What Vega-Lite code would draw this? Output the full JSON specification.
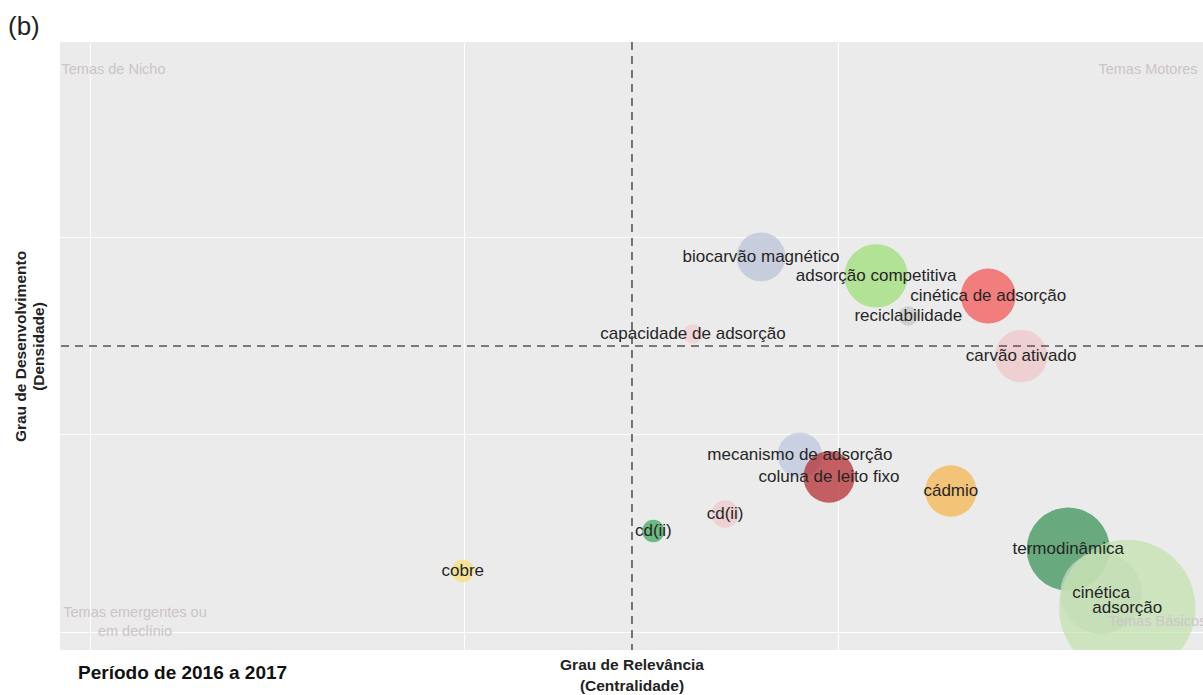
{
  "$schema": "https://vega.github.io/schema/vega-lite/v6.json",
  "autosize": {"type": "none"},
  "padding": {"left": 60, "top": 42, "right": 0, "bottom": 45},
  "width": 1143,
  "height": 608,
  "background": "white",
  "config": {
    "font": "Liberation Sans",
    "view": {"fill": "#ebebeb", "stroke": null},
    "axis": {"gridColor": "#ffffff", "gridWidth": 1.1, "gridOpacity": 1}
  },
  "title": {
    "text": "(b)",
    "anchor": "start",
    "frame": "group",
    "dx": -52,
    "offset": 1,
    "fontSize": 26,
    "fontWeight": "normal",
    "color": "#222222"
  },
  "datasets": {
    "temas": [
      {"grupo": 1, "label": "biocarvão magnético", "centralidade": 0.897, "densidade": 1.899, "freq": 19},
      {"grupo": 2, "label": "adsorção competitiva", "centralidade": 1.051, "densidade": 1.803, "freq": 32},
      {"grupo": 3, "label": "cinética de adsorção", "centralidade": 1.201, "densidade": 1.701, "freq": 24},
      {"grupo": 4, "label": "reciclabilidade", "centralidade": 1.094, "densidade": 1.6, "freq": 3},
      {"grupo": 5, "label": "capacidade de adsorção", "centralidade": 0.806, "densidade": 1.509, "freq": 3},
      {"grupo": 6, "label": "carvão ativado", "centralidade": 1.245, "densidade": 1.397, "freq": 22},
      {"grupo": 7, "label": "mecanismo de adsorção", "centralidade": 0.949, "densidade": 0.896, "freq": 16},
      {"grupo": 8, "label": "coluna de leito fixo", "centralidade": 0.988, "densidade": 0.785, "freq": 21},
      {"grupo": 9, "label": "cádmio", "centralidade": 1.151, "densidade": 0.714, "freq": 21},
      {"grupo": 10, "label": "cd(ii)", "centralidade": 0.849, "densidade": 0.597, "freq": 6},
      {"grupo": 11, "label": "cd(ii)", "centralidade": 0.753, "densidade": 0.511, "freq": 4},
      {"grupo": 12, "label": "cobre", "centralidade": 0.498, "densidade": 0.309, "freq": 4},
      {"grupo": 13, "label": "termodinâmica", "centralidade": 1.308, "densidade": 0.42, "freq": 55},
      {"grupo": 14, "label": "cinética", "centralidade": 1.352, "densidade": 0.197, "freq": 53},
      {"grupo": 15, "label": "adsorção", "centralidade": 1.387, "densidade": 0.122, "freq": 148}
    ],
    "quadrantes": [
      {"texto": "Temas de Nicho", "centralidade": 0.0308, "densidade": 2.846},
      {"texto": "Temas Motores", "centralidade": 1.4147, "densidade": 2.846},
      {"texto": "Temas emergentes ou\nem declínio", "centralidade": 0.0595, "densidade": 0.0962},
      {"texto": "Temas Básicos", "centralidade": 1.4274, "densidade": 0.0506}
    ],
    "medias": [
      {"centralidade_media": 0.7244, "densidade_media": 1.448}
    ],
    "periodo": [
      {"texto": "Período de 2016 a 2017", "centralidade": -0.0167, "densidade": -0.2076}
    ]
  },
  "layer": [
    {
      "data": {"name": "temas"},
      "mark": {"type": "circle", "opacity": 0.7, "clip": true},
      "encoding": {
        "x": {
          "field": "centralidade",
          "type": "quantitative",
          "scale": {"domain": [-0.0408, 1.4883], "nice": false, "zero": false},
          "axis": {
            "values": [0, 0.5, 1],
            "labels": false,
            "ticks": false,
            "domain": false,
            "title": ["Grau de Relevância", "(Centralidade)"],
            "titleFontSize": 15.5,
            "titleFontWeight": "bold",
            "titleColor": "#222222",
            "titleLineHeight": 21,
            "titlePadding": 7
          }
        },
        "y": {
          "field": "densidade",
          "type": "quantitative",
          "scale": {"domain": [-0.091, 2.987], "nice": false, "zero": false},
          "axis": {
            "values": [0, 1, 2],
            "labels": false,
            "ticks": false,
            "domain": false,
            "title": ["Grau de Desenvolvimento", "(Densidade)"],
            "titleFontSize": 15.5,
            "titleFontWeight": "bold",
            "titleColor": "#222222",
            "titleLineHeight": 18,
            "titlePadding": 14
          }
        },
        "size": {
          "field": "freq",
          "type": "quantitative",
          "scale": {"type": "linear", "domain": [0, 100], "range": [0, 12566], "zero": true},
          "legend": null
        },
        "color": {
          "field": "grupo",
          "type": "nominal",
          "scale": {
            "domain": [1, 2, 3, 4, 5, 6, 7, 8, 9, 10, 11, 12, 13, 14, 15],
            "range": ["#b9c1d8", "#9ade72", "#f54e4e", "#c4c4c4", "#f2cacd", "#efc4c7", "#b9c5dd", "#b2232a", "#f6b247", "#f0c6cb", "#38a455", "#f9dd71", "#318e4e", "#cfd4cf", "#c0e1ab"]
          },
          "legend": null
        }
      }
    },
    {
      "data": {"name": "medias"},
      "mark": {"type": "rule", "color": "#555555", "strokeWidth": 1.6, "strokeDash": [8, 6]},
      "encoding": {
        "x": {"field": "centralidade_media", "type": "quantitative"}
      }
    },
    {
      "data": {"name": "medias"},
      "mark": {"type": "rule", "color": "#555555", "strokeWidth": 1.6, "strokeDash": [8, 6]},
      "encoding": {
        "y": {"field": "densidade_media", "type": "quantitative"}
      }
    },
    {
      "data": {"name": "temas"},
      "mark": {"type": "text", "fontSize": 17, "color": "#262626", "baseline": "middle", "align": "center", "clip": true},
      "encoding": {
        "x": {"field": "centralidade", "type": "quantitative"},
        "y": {"field": "densidade", "type": "quantitative"},
        "text": {"field": "label"}
      }
    },
    {
      "data": {"name": "quadrantes"},
      "mark": {"type": "text", "fontSize": 14.5, "color": "#cbc4c8", "baseline": "middle", "align": "center", "lineBreak": "\n", "lineHeight": 19, "clip": true},
      "encoding": {
        "x": {"field": "centralidade", "type": "quantitative"},
        "y": {"field": "densidade", "type": "quantitative"},
        "text": {"field": "texto"}
      }
    },
    {
      "data": {"name": "periodo"},
      "mark": {"type": "text", "fontSize": 19, "fontWeight": "bold", "color": "#111111", "baseline": "middle", "align": "left"},
      "encoding": {
        "x": {"field": "centralidade", "type": "quantitative"},
        "y": {"field": "densidade", "type": "quantitative"},
        "text": {"field": "texto"}
      }
    }
  ]
}
